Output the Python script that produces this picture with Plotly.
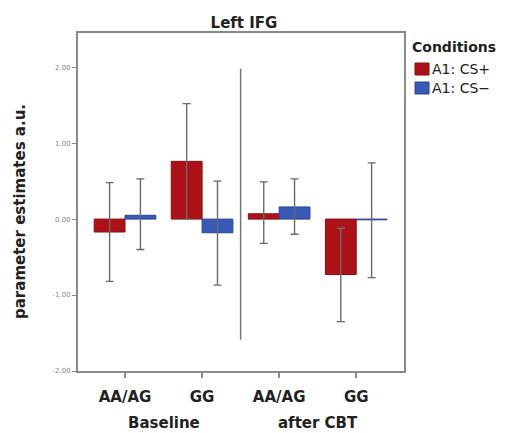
import plotly.graph_objects as go

# ---- data ----
genotypes = ["AA/AG", "GG", "AA/AG", "GG"]
sessions = ["Baseline", "after CBT"]
series_names = ["A1: CS+", "A1: CS\u2212"]

cs_plus = [-0.17, 0.76, 0.07, -0.73]
cs_plus_upper = [0.48, 1.52, 0.49, -0.12]
cs_plus_lower = [-0.82, 0.00, -0.32, -1.35]

cs_minus = [0.05, -0.18, 0.16, -0.01]
cs_minus_upper = [0.53, 0.50, 0.53, 0.74]
cs_minus_lower = [-0.40, -0.87, -0.20, -0.77]

y_ticks = [-2.0, -1.0, 0.0, 1.0, 2.0]
y_tick_labels = ["-2.00", "-1.00", "0.00", "1.00", "2.00"]

# ---- style ----
RED = "#ad1218"
RED_EDGE = "#8c0d12"
BLUE = "#3859b5"
BLUE_EDGE = "#2c479a"
AXIS = "#8a8a8a"
ERR = "#6a6a6a"
FONT = "DejaVu Sans"

xpos = list(range(len(genotypes)))

def err(vals, up, lo):
    return dict(
        type="data", symmetric=False,
        array=[u - v for u, v in zip(up, vals)],
        arrayminus=[v - l for v, l in zip(vals, lo)],
        color=ERR, thickness=1.4, width=4,
    )

fig = go.Figure()
fig.add_trace(go.Bar(
    x=xpos, y=cs_plus, name=series_names[0],
    marker=dict(color=RED, line=dict(color=RED_EDGE, width=1)),
    error_y=err(cs_plus, cs_plus_upper, cs_plus_lower),
    showlegend=False,
))
fig.add_trace(go.Bar(
    x=xpos, y=cs_minus, name=series_names[1],
    marker=dict(color=BLUE, line=dict(color=BLUE_EDGE, width=1)),
    error_y=err(cs_minus, cs_minus_upper, cs_minus_lower),
    showlegend=False,
))

W, H = 507, 433
L, R, T, B = 78, 103, 33, 62
pw, ph = W - L - R, H - T - B

def px_x(p):
    return (p - L) / pw

def px_y(p):
    return (H - B - p) / ph

n_per = len(genotypes) // len(sessions)
# group separator
fig.add_shape(type="line", xref="x", yref="y",
              x0=n_per - 0.5, x1=n_per - 0.5, y0=-1.59, y1=1.98,
              line=dict(color="#777777", width=1.5))

annotations = []
# session labels
for i, s in enumerate(sessions):
    cx = i * n_per + (n_per - 1) / 2
    annotations.append(dict(x=cx, y=px_y(423), xref="x", yref="paper",
                            text="<b>%s</b>" % s, showarrow=False,
                            xanchor="center", yanchor="middle",
                            font=dict(family=FONT, size=15, color="#222")))
# y axis title
annotations.append(dict(x=px_x(20), y=px_y(212), xref="paper", yref="paper",
                        text="<b>parameter estimates a.u.</b>", showarrow=False,
                        textangle=-90, xanchor="center", yanchor="middle",
                        font=dict(family=FONT, size=15, color="#222")))
# legend (manual)
annotations.append(dict(x=px_x(410), y=px_y(47), xref="paper", yref="paper",
                        text="<b>Conditions</b>", showarrow=False,
                        xanchor="left", yanchor="middle",
                        font=dict(family=FONT, size=14, color="#222")))
leg_colors = [(RED, RED_EDGE), (BLUE, BLUE_EDGE)]
for k, (nm, (c, e)) in enumerate(zip(series_names, leg_colors)):
    cy = 69 + k * 19
    fig.add_shape(type="rect", xref="paper", yref="paper",
                  x0=px_x(415), x1=px_x(429), y0=px_y(cy + 6), y1=px_y(cy - 6),
                  fillcolor=c, line=dict(color=e, width=1))
    annotations.append(dict(x=px_x(430), y=px_y(cy), xref="paper", yref="paper",
                            text=nm, showarrow=False,
                            xanchor="left", yanchor="middle",
                            font=dict(family=FONT, size=14, color="#222")))

fig.update_layout(
    width=W, height=H,
    margin=dict(l=L, r=R, t=T, b=B),
    paper_bgcolor="white", plot_bgcolor="white",
    barmode="group", bargap=0.2, bargroupgap=0,
    font=dict(family=FONT, color="#222"),
    title=dict(text="<b>Left IFG</b>", x=px_x(244), xref="paper", xanchor="center",
               y=1 - 23 / H, yref="container", yanchor="middle",
               font=dict(family=FONT, size=15, color="#222")),
    annotations=annotations,
)
fig.update_xaxes(
    range=[-0.61, 3.62], tickmode="array", tickvals=xpos,
    ticktext=["<b>%s</b>" % g for g in genotypes],
    tickfont=dict(family=FONT, size=15, color="#222"),
    ticks="outside", ticklen=5, tickwidth=1.5, tickcolor=AXIS,
    ticklabelstandoff=6,
    showline=True, linecolor=AXIS, linewidth=2, mirror=True,
    showgrid=False, zeroline=False, fixedrange=True,
)
fig.update_yaxes(
    range=[-2.0, 2.45], tickmode="array", tickvals=y_ticks, ticktext=y_tick_labels,
    tickfont=dict(family=FONT, size=7, color="#8a8a8a"),
    ticks="outside", ticklen=4, tickwidth=1, tickcolor=AXIS,
    showline=True, linecolor=AXIS, linewidth=2, mirror=True,
    showgrid=False, zeroline=False, fixedrange=True,
)

fig.write_html("out.html")
